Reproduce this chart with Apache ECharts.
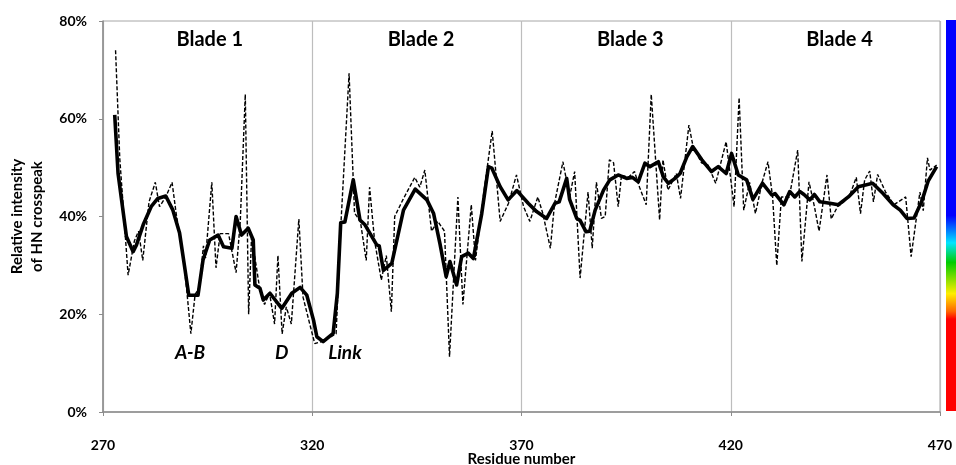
<!DOCTYPE html>
<html><head><meta charset="utf-8">
<script src="https://cdn.jsdelivr.net/npm/echarts/dist/echarts.min.js"></script>
<style>html,body{margin:0;padding:0;background:#fff}#c{width:956px;height:465px}</style>
</head><body><div id="c"></div>
<script>
// Raw HN crosspeak intensity (dashed)
const rawResidue = [273,274,275,276,277.5,278.5,279.5,281,282.5,283.5,285,286.5,287.5,289,290,291,292,293,294,294.5,296,297,298,300,301.8,302.8,304,304.8,305.5,307.4,308.6,309.8,311,311.8,312.8,313.8,315,316.8,317.8,319.4,320.6,322.6,325.7,326.9,328.8,330.1,331.5,332.9,333.7,334.9,336.5,337.7,338.9,339.7,341.7,344.5,345.7,346.9,348.5,350,351.6,352.8,354.8,356,358,359,361,363,364.9,366.9,368.8,370.5,372,373.9,375.1,376.9,377.9,379.9,381.5,382.7,384,385.9,386.9,387.9,389.1,390,391,392,393.1,393.9,395.5,397,398.2,399.8,401,403,403.8,405,407,408,410,411,413,414.6,416.4,418.9,420.8,422,423.1,424.5,425.9,427.5,428.9,430,431,432.1,434,436,437,438.7,440,441.1,443,444,445.5,447,448.5,450,451,452,453.2,454.1,455.1,457,459,461.8,463.1,465.2,466,467,467.6,469.2];
const rawIntensity = [74,52,40,28,35,37,31,43,47,42,44,47,40.5,33,25,16,24,25.5,34,31.5,47,29.5,36.5,36.5,28.5,39,65,20,36,25.5,22,24.3,18,32,16,21.5,18,39.5,23.5,18,14,14.5,16,39.3,69.3,40.7,39,31,46,35,27,32,20.5,40,43.5,48,46,49.5,37,39,37,11.3,44,22,42.4,31,45,57.5,39,42.7,48.5,42,39,44,40.6,33.5,42.7,51.2,44,49.2,27.4,45,33.5,47,39.6,40,51.6,51,42,48.5,48,49.2,46,42.4,65,39.3,51.6,45.4,48.8,43.7,58.7,54.3,51,50.5,46.8,55.3,42,64.3,41.3,47,40.6,47,51.2,44,30,44,44,53.6,30.8,47.1,42,37,48.5,39.5,42,43,44.5,48,40.6,47.5,49.3,43,48.6,45,42.4,44,31.8,45,41.2,52,49.5,50.5];
// Smoothed intensity (solid)
const smoothResidue = [272.8,273.6,275.6,277.2,278,279.6,281.5,283.1,285,286.7,288.3,289.5,290.5,292.7,293.9,295.5,297.5,298.8,300.8,301.8,303.1,304.7,305.9,306.3,307.5,308.3,309.9,312.7,315.1,317.1,318.7,320.3,321.1,322.6,325,326,326.8,327.8,329.8,331.4,332.6,335.4,336,337,339,341.8,344.6,347.4,349,350.5,352,352.9,354.5,355.7,357.3,358.5,360.5,362.1,362.9,364.9,366.8,368.9,371.6,373.6,376,378,379,380.8,381.5,383.2,384,385.4,386.3,387.6,389.6,391.1,393.1,395.1,396.5,397.9,399.5,400.7,402.7,403.9,405.1,406.7,407.9,409.5,410.9,413.1,415.4,417,418.9,420.2,421.8,423.8,425.3,427.6,429.8,430.6,432.7,434.1,435.3,436.5,437.5,438.9,440,441.3,443.7,445.7,448.1,450.5,453.9,456.4,458.8,460.5,462.1,463.8,465.6,467.2,469.2];
const smoothIntensity = [60.8,48.8,35.9,32.8,34.2,38.3,42,43.7,44.2,41.3,36.6,29.7,23.9,23.9,31.1,35.2,36.2,33.8,33.5,40,36.2,37.6,35.2,26,25.3,22.9,24.3,21.2,24.3,25.5,23.9,18.8,15.4,14.4,16.1,24.3,38.7,38.9,47.5,39.3,38.3,34.2,34,29,30.4,41.3,45.6,43.4,40.6,34.5,27.7,30.8,26,31.8,32.5,31.4,40.6,50.2,49.9,46.1,43.4,45.3,42.7,41,39.6,42.7,43,47.8,43.5,39.6,39.2,36.9,37,41.3,45.4,47.5,48.5,47.8,48,47.1,50.9,50.2,51.2,48.1,46.8,47.8,48.8,52.2,54.3,51.6,49.2,50.2,48.8,52.9,48.5,47.5,43.5,46.8,44.4,44.7,42.4,45.1,44,45.1,44.5,43.4,44.5,43,42.7,42.4,44,46.1,46.8,44.7,42.4,41.3,39.6,39.7,43,47.3,50.2];
// Text annotations
const bladeNames = ['Blade 1','Blade 2','Blade 3','Blade 4'];
const bladeResidues = [295.5,346,396,446];
const bladeLevel = 76.3;
const regionNames = ['A-B','D','Link'];
const regionResidues = [290.8,312.7,327.8];
const regionLevel = 12;
const xTicks = [270,320,370,420,470];
const yTicks = [0,20,40,60,80];

const zip = (a,b) => a.map((v,i)=>[v,b[i]]);
const font = 'Lato';
const chart = echarts.init(document.getElementById('c'));
const textLabel = (extra) => Object.assign({show:true,position:'inside',formatter:'{b}',fontFamily:font,
  fontWeight:'bold',color:'#000',opacity:1,textBorderWidth:0,textBorderColor:'transparent'}, extra);
chart.setOption({
  animation:false,
  backgroundColor:'#fff',
  grid:{left:103,right:16,top:21,bottom:53,show:true,borderColor:'#a6a6a6',borderWidth:1,
    containLabel:false,outerBoundsMode:'none'},
  xAxis:{type:'value',min:xTicks[0],max:xTicks[xTicks.length-1],interval:50,
    name:'Residue number',nameLocation:'middle',nameGap:40,nameMoveOverlap:false,
    nameTextStyle:{fontFamily:font,fontWeight:'bold',fontSize:15,color:'#000'},
    axisLine:{lineStyle:{color:'#8c8c8c',width:1.5}},
    axisTick:{show:true,length:4,lineStyle:{color:'#8c8c8c'}},
    axisLabel:{fontFamily:font,fontWeight:'bold',fontSize:14,color:'#000',margin:26},
    splitLine:{show:true,lineStyle:{color:'#bdbdbd',width:1.2}}},
  yAxis:{type:'value',min:yTicks[0],max:yTicks[yTicks.length-1],interval:20,
    name:'Relative intensity\nof HN crosspeak',nameLocation:'middle',nameGap:56,nameRotate:90,nameMoveOverlap:false,
    nameTextStyle:{fontFamily:font,fontWeight:'bold',fontSize:15,color:'#000',lineHeight:20},
    axisLine:{show:true,lineStyle:{color:'#8c8c8c',width:1.5}},
    axisTick:{show:true,length:4,lineStyle:{color:'#8c8c8c'}},
    axisLabel:{fontFamily:font,fontWeight:'bold',fontSize:14,color:'#000',margin:16,formatter:'{value}%'},
    splitLine:{show:false}},
  graphic:[{type:'rect',shape:{x:946,y:20,width:10,height:391},
    style:{fill:{type:'linear',x:0,y:0,x2:0,y2:1,colorStops:[
      {offset:0,color:'#0000ff'},{offset:0.5,color:'#0000ff'},{offset:0.57,color:'#00e5ff'},
      {offset:0.62,color:'#00cc00'},{offset:0.70,color:'#ffee00'},{offset:0.745,color:'#ff6600'},
      {offset:0.765,color:'#ff0000'},{offset:1,color:'#ff0000'}]}}}],
  series:[
    {type:'line',data:zip(rawResidue,rawIntensity),showSymbol:false,symbol:'none',z:2,
     lineStyle:{color:'#000',width:1.4,type:[4,2]}},
    {type:'line',data:zip(smoothResidue,smoothIntensity),showSymbol:false,symbol:'none',z:3,
     lineStyle:{color:'#000',width:3.6,join:'round'}},
    {type:'scatter',symbolSize:0,z:4,silent:true,itemStyle:{color:'#000',opacity:1},
     data:bladeNames.map((n,i)=>({name:n,value:[bladeResidues[i],bladeLevel]})),
     label:textLabel({fontSize:20})},
    {type:'scatter',symbolSize:0,z:4,silent:true,itemStyle:{color:'#000',opacity:1},
     data:regionNames.map((n,i)=>({name:n,value:[regionResidues[i],regionLevel]})),
     label:textLabel({fontSize:19,fontStyle:'italic'})}
  ]
});
</script></body></html>
